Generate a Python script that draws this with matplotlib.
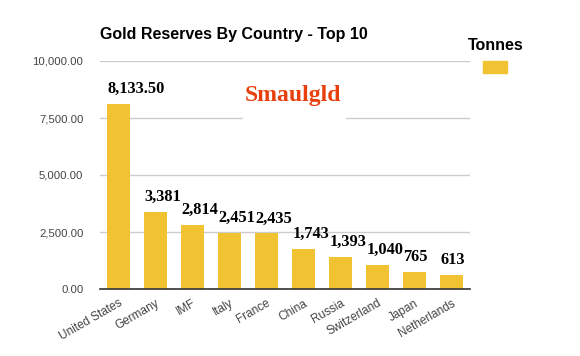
import matplotlib
matplotlib.use("Agg")
import matplotlib.pyplot as plt
from matplotlib.patches import Rectangle

countries = ["United States", "Germany", "IMF", "Italy", "France", "China",
             "Russia", "Switzerland", "Japan", "Netherlands"]
tonnes = [8133.5, 3381, 2814, 2451, 2435, 1743, 1393, 1040, 765, 613]
value_labels = ["8,133.50", "3,381", "2,814", "2,451", "2,435", "1,743",
                "1,393", "1,040", "765", "613"]
yticks = [0, 2500, 5000, 7500, 10000]
ytick_labels = ["0.00", "2,500.00", "5,000.00", "7,500.00", "10,000.00"]

bar_color = "#F1C232"
bar_width = 0.6
plt.rcParams['font.family'] = ['Liberation Sans', 'DejaVu Sans']

fig = plt.figure(figsize=(5.8, 3.56), dpi=100)
ax = fig.add_axes([100/580, 1-289/356, 370/580, (289-61)/356])

x = list(range(len(countries)))
ax.bar(x, tonnes, width=bar_width, color=bar_color, zorder=3)
ax.set_xlim(-0.5, len(countries) - 0.5)
ax.set_ylim(0, 10000)
ax.set_yticks(yticks)
ax.set_yticklabels(ytick_labels, fontsize=8.2, color="#444444")
ax.set_xticks(x)
ax.set_xticklabels(countries, rotation=30, ha="right", va="top",
                   rotation_mode="anchor", fontsize=8.5, color="#444444")
ax.tick_params(axis="y", length=0, pad=12)
ax.tick_params(axis="x", length=0, pad=6)
ax.grid(axis="y", color="#cccccc", linewidth=1, zorder=0)
for s in ["top", "right", "left"]:
    ax.spines[s].set_visible(False)
ax.spines["bottom"].set_color("#333333")
ax.spines["bottom"].set_linewidth(1.2)
ax.spines["bottom"].set_zorder(4)

for xi, v, lab in zip(x, tonnes, value_labels):
    ax.annotate(lab, (xi - bar_width / 2, v), xytext=(0, 5),
                textcoords="offset points",
                ha="left", va="bottom", fontsize=11.8, fontweight="bold",
                family=["Liberation Serif", "DejaVu Serif"], color="#000000",
                zorder=5)

fig.text(100/580, 1-35/356, "Gold Reserves By Country - Top 10", fontsize=11.5,
         fontweight="bold", ha="left", va="center")

# Legend
fig.text(468/580, 1-46/356, "Tonnes", fontsize=11.5, fontweight="bold",
         ha="left", va="center")
fig.patches.append(Rectangle((483/580, 1-73/356), 24/580, 12/356,
                             transform=fig.transFigure, color=bar_color,
                             figure=fig))

# Logo (text-based)
fig.patches.append(Rectangle((243/580, 1-122/356), 102/580, 50/356,
                             transform=fig.transFigure, color="white",
                             figure=fig, zorder=10))
fig.text(293/580, 1-96/356, "Smaulgld", fontsize=17, fontweight="bold",
         family=["Liberation Serif", "DejaVu Serif"], color="#E8400C",
         ha="center", va="center", zorder=11)

fig.savefig("out.png", dpi=100)
